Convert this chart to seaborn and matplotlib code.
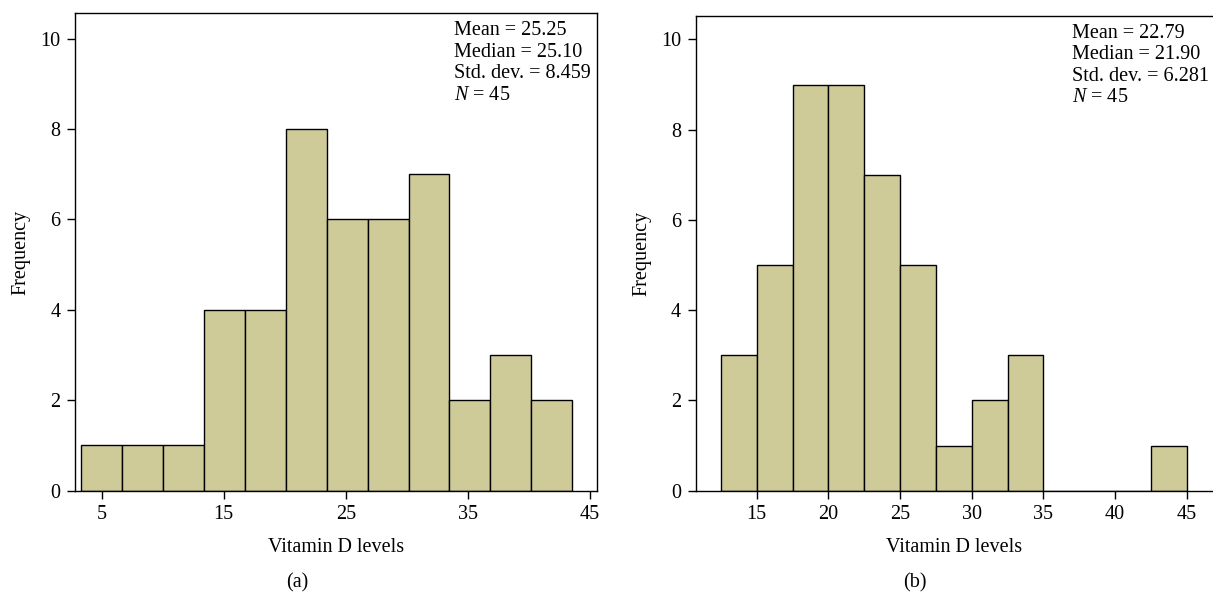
import numpy as np
import pandas as pd
import seaborn as sns
import matplotlib
matplotlib.use("Agg")
import matplotlib.pyplot as plt

# ---- data ----
edges_a = [3.36, 6.71, 10.06, 13.40, 16.75, 20.10, 23.45, 26.79, 30.14, 33.49, 36.83, 40.18, 43.53]
counts_a = [1, 1, 1, 4, 4, 8, 6, 6, 7, 2, 3, 2]
edges_b = [12.5, 15.0, 17.5, 20.0, 22.5, 25.0, 27.5, 30.0, 32.5, 35.0, 37.5, 40.0, 42.5, 45.0]
counts_b = [3, 5, 9, 9, 7, 5, 1, 2, 3, 0, 0, 0, 1]
xticks_a = [5, 15, 25, 35, 45]
xticks_b = [15, 20, 25, 30, 35, 40, 45]
yticks = [0, 2, 4, 6, 8, 10]
stats_a = ["Mean = 25.25", "Median = 25.10", "Std. dev. = 8.459", "45"]
stats_b = ["Mean = 22.79", "Median = 21.90", "Std. dev. = 6.281", "45"]

sns.set_theme(style="ticks")
plt.rcParams["font.family"] = ["Liberation Serif", "DejaVu Serif"]
plt.rcParams["mathtext.fontset"] = "custom"
plt.rcParams["mathtext.rm"] = "Liberation Serif"
plt.rcParams["mathtext.it"] = "Liberation Serif:italic"
plt.rcParams["text.color"] = "black"
plt.rcParams["axes.labelcolor"] = "black"

BAR = "#CECB99"
FS = 14.5

fig = plt.figure(figsize=(12.13, 5.96), dpi=100)
W, H = 1213.0, 596.0

def mk_ax(l, r, t, b):
    return fig.add_axes([l / W, 1 - b / H, (r - l) / W, (b - t) / H])

ax1 = mk_ax(75, 596.7, 13.3, 490.7)
ax2 = mk_ax(695.7, 1213, 16, 490.7)

def draw(ax, edges, counts, xticks, xlim, ylim, stats):
    centers = [(edges[i] + edges[i + 1]) / 2 for i in range(len(counts))]
    df = pd.DataFrame({"x": centers, "w": counts})
    sns.histplot(data=df, x="x", weights="w", bins=edges, ax=ax,
                 color=BAR, alpha=1, edgecolor="black", linewidth=1.0)
    ax.set_xlim(*xlim)
    ax.set_ylim(*ylim)
    ax.set_xticks(xticks)
    ax.set_yticks(yticks)
    ax.tick_params(axis="both", labelsize=FS, length=5.5, width=1, direction="out",
                   colors="black", pad=5)
    for s in ax.spines.values():
        s.set_linewidth(1)
        s.set_color("black")
    ax.set_xlabel("Vitamin D levels", fontsize=FS, labelpad=10, color="black")
    ax.set_ylabel("Frequency", fontsize=FS, labelpad=7, color="black")
    txt = "\n".join(stats[:3] + [r"$N$ = " + stats[3]])
    ax.text(0.727, 0.983, txt, transform=ax.transAxes, ha="left", va="top",
            fontsize=FS, linespacing=1.17, color="black")

draw(ax1, edges_a, counts_a, xticks_a, (2.83, 45.55), (0, 10.56), stats_a)
draw(ax2, edges_b, counts_b, xticks_b, (10.74, 46.84), (0, 10.52), stats_b)
ax2.spines["right"].set_visible(False)

fig.text(297 / W, 1 - 583 / H, "(a)", ha="center", va="center", fontsize=FS, color="black")
fig.text(915 / W, 1 - 583 / H, "(b)", ha="center", va="center", fontsize=FS, color="black")

fig.savefig("out.png", dpi=100)
